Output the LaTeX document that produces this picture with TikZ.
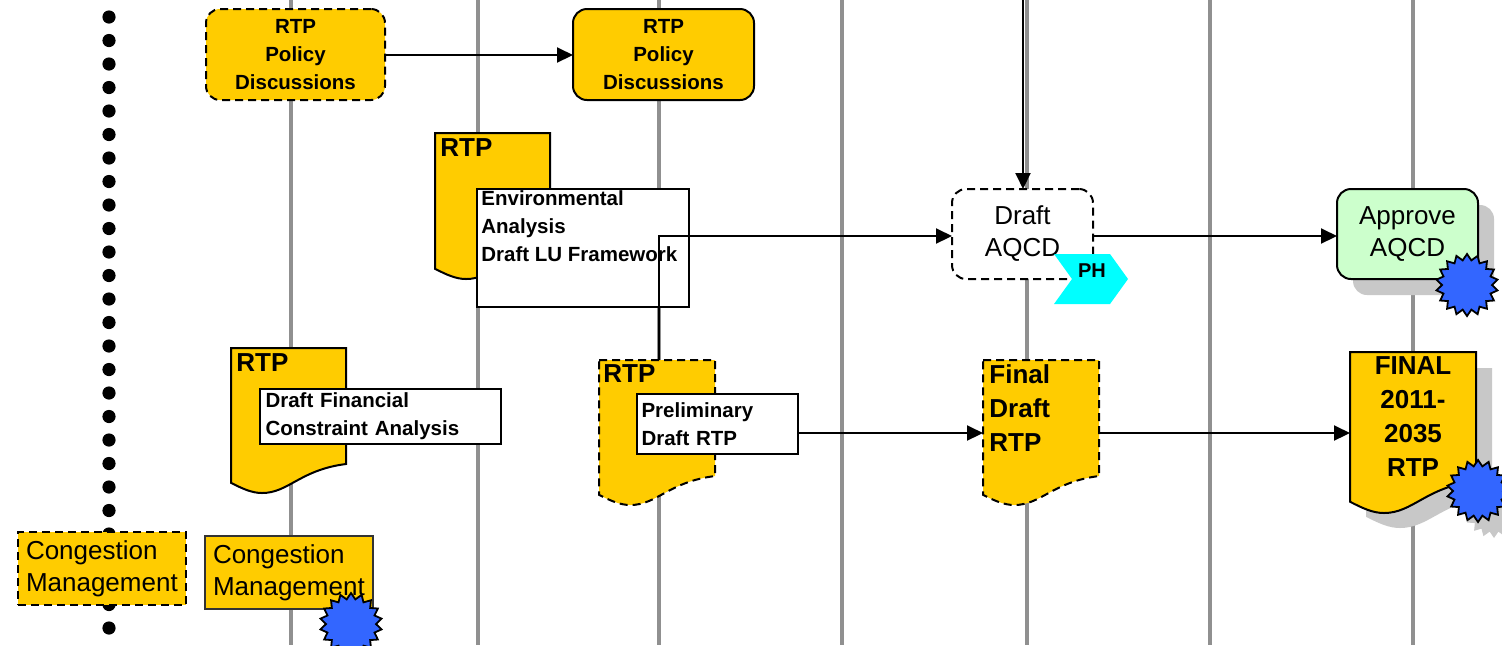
\documentclass[tikz,border=0pt]{standalone}
\usepackage{fontspec}
\setmainfont{Liberation Sans}
\usetikzlibrary{shapes.geometric,arrows.meta,calc}
\definecolor{gold}{HTML}{FFCC00}
\definecolor{rule}{HTML}{909090}
\definecolor{shade}{HTML}{C8C8C8}
\definecolor{mint}{HTML}{CCFFCC}
\definecolor{burst}{HTML}{3366FF}
\definecolor{aqua}{HTML}{00FFFF}
\tikzset{
  x=0.5pt,y=-0.5pt,
  outline/.style={draw=black,line width=1pt},
  dashline/.style={dash pattern=on 4pt off 2.5pt},
  rulew/.style={draw=rule,line width=2pt},
  conn/.style={draw=black,line width=1pt,-{Triangle[length=8pt,width=7.5pt]}},
  plainbox/.style={rectangle,inner sep=0pt,outer sep=0pt},
  dotn/.style={circle,fill=black,draw=none,minimum size=6.6pt,inner sep=0pt},
  burststar/.style={star,star points=18,star point ratio=1.24,draw=black,line width=0.9pt,fill=burst,minimum size=31pt,inner sep=0pt},
  big/.style={font=\fontsize{13}{16}\selectfont},
  bigb/.style={font=\fontsize{13}{17}\selectfont\bfseries},
  small/.style={font=\fontsize{10.25}{14}\selectfont\bfseries},
  ghost/.style={fill=shade,draw=none},
}
% name x1 y1 x2 y2 options text
\newcommand\bxn[7]{%
  \pgfmathsetmacro\bwid{(#4-#2)/2}\pgfmathsetmacro\bhei{(#5-#3)/2}%
  \node[plainbox,minimum width=\bwid pt,minimum height=\bhei pt,#6] (#1) at ({(#2+#4)/2},{(#3+#5)/2}) {#7};}
% document outline: name x1 y1 x2 y2 path-options
\newcommand\docn[6]{%
  \pgfmathsetmacro\dwid{#4-#2}\pgfmathsetmacro\dhei{#5-#3}%
  \path[#6] (#2,#3) -- (#4,#3) -- ($(#4,#3)+(0,0.8*\dhei)$)
    .. controls ($(#2,#3)+(0.6*\dwid,0.84*\dhei)$) and ($(#2,#3)+(0.5*\dwid,\dhei)$) .. ($(#2,#3)+(0.27*\dwid,\dhei)$)
    .. controls ($(#2,#3)+(0.18*\dwid,\dhei)$) and ($(#2,#3)+(0.1*\dwid,0.97*\dhei)$) .. ($(#2,#3)+(0,0.93*\dhei)$) -- cycle;
  \bxn{#1}{#2}{#3}{#4}{#5}{}{}}
\begin{document}
\begin{tikzpicture}
\clip (0,0) rectangle (1502,645);
\fill[white] (0,0) rectangle (1502,645);
% vertical rules
\foreach \n/\xx in {a/291,b/478,c/659,d/842,e/1027,f/1210,g/1413}{
  \coordinate (top\n) at (\xx,0);
  \coordinate (bot\n) at (\xx,645);
  \draw[rulew] (top\n) -- (bot\n);
}
% dotted column
\foreach \i in {0,...,26}{
  \node[dotn] (dot\i) at (109,{17+23.5*\i}) {};
}
% shadows
\fill[ghost,rounded corners=7pt] (1353,205) rectangle (1494,295);
\docn{finalshadow}{1366}{368}{1492}{528}{ghost}
\node[star,star points=18,star point ratio=1.24,fill=shade,minimum size=31pt,inner sep=0pt] (burstshadow) at (1494,507) {};
% policy boxes
\bxn{pola}{206}{9}{385}{100}{draw=black,line width=1pt,dashline,fill=gold,rounded corners=7pt,small,align=center}{RTP\\Policy\\Discussions}
\bxn{polb}{573}{9}{754}{100}{draw=black,line width=1pt,fill=gold,rounded corners=7pt,small,align=center}{RTP\\Policy\\Discussions}
% documents
\docn{envdoc}{435}{133}{550}{279}{outline,fill=gold}
\node[anchor=north west,inner sep=0pt,bigb] (envtitle) at (440,138) {RTP};
\bxn{envbox}{477}{189}{689}{307}{draw=black,line width=1pt,fill=white}{}
\node[anchor=north west,inner sep=0pt,small,align=left] (envtext) at (481,190) {Environmental\\Analysis\\Draft LU Framework};
\docn{findoc}{231}{348}{346}{493}{outline,fill=gold}
\node[anchor=north west,inner sep=0pt,bigb] (fintitle) at (236,353) {RTP};
\bxn{finbox}{260}{389}{501}{444}{draw=black,line width=1pt,fill=white,small,align=left,text width=115pt,inner xsep=2pt}{Draft Financial\\Constraint Analysis}
\docn{predoc}{599}{360}{715}{505}{outline,dashline,fill=gold}
\node[anchor=north west,inner sep=0pt,bigb] (pretitle) at (603,364) {RTP};
\bxn{prebox}{637}{394}{798}{454}{draw=black,line width=1pt,fill=white,small,align=left,text width=76pt,inner xsep=2pt}{Preliminary\\Draft RTP}
\docn{fddoc}{983}{360}{1099}{505}{outline,dashline,fill=gold}
\node[anchor=north west,inner sep=0pt,bigb,align=left] (fdtext) at (989,364) {Final\\Draft\\RTP};
\docn{finaldoc}{1350}{352}{1476}{513}{outline,fill=gold}
\node[anchor=north,inner sep=0pt,bigb,align=center] (finaltext) at (1413,356) {FINAL\\2011-\\2035\\RTP};
% AQCD boxes
\bxn{draftq}{952}{189}{1093}{279}{draw=black,line width=1pt,dashline,fill=white,rounded corners=7pt,big,align=center}{Draft\\AQCD}
\bxn{approve}{1337}{189}{1478}{279}{draw=black,line width=1pt,fill=mint,rounded corners=7pt,big,align=center}{Approve\\AQCD}
% chevron
\fill[aqua] (1054,254) -- (1110,254) -- (1128,279) -- (1110,304) -- (1054,304) -- (1072,279) -- cycle;
\node[inner sep=0pt,font=\fontsize{10}{12}\selectfont\bfseries] (ph) at (1092,271) {PH};
% congestion boxes
\bxn{conga}{18}{532}{186}{605}{draw=black,line width=1pt,dashline,fill=gold,big,align=left,text width=76pt,inner xsep=3pt}{Congestion\\Management}
\bxn{congb}{205}{536}{373}{609}{draw=black!80,line width=1pt,fill=gold,big,align=left,text width=76pt,inner xsep=3pt}{Congestion\\Management}
% bursts
\node[burststar] (burstq) at (1467,285) {};
\node[burststar] (burstf) at (1478,491) {};
\node[burststar] (burstc) at (351,624) {};
% connectors
\coordinate (rowa) at (0,55);
\coordinate (rowb) at (0,236);
\coordinate (rowc) at (0,433);
\coordinate (down) at (1023,0);
\draw[conn] (pola.east |- rowa) -- (polb.west |- rowa);
\draw[conn] (predoc.north -| topc) -- (topc |- rowb) -- (draftq.west |- rowb);
\draw[conn] (draftq.east |- rowb) -- (approve.west |- rowb);
\draw[conn] (prebox.east |- rowc) -- (fddoc.west |- rowc);
\draw[conn] (fddoc.east |- rowc) -- (finaldoc.west |- rowc);
\draw[conn] (down) -- (down |- draftq.north);
\end{tikzpicture}
\end{document}
